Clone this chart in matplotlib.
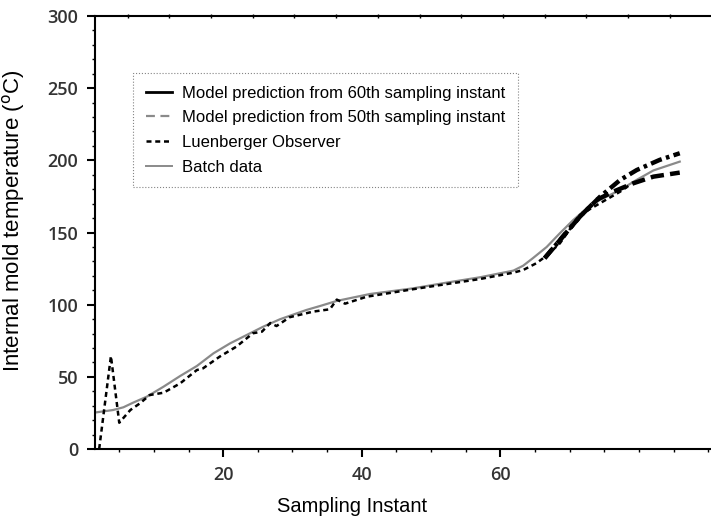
import matplotlib
matplotlib.use('Agg')
import matplotlib.pyplot as plt
from matplotlib.lines import Line2D
import numpy as np

# Batch data (gray solid)
batch_x = [1.4, 4.1, 5.6, 7.0, 9.0, 11.4, 13.8, 16.2, 18.6, 21.0, 23.4, 25.8, 28.2,
           32.0, 34.0, 36.4, 39.3, 41.2, 47.4, 52.3, 57.1, 61.9, 63.3, 64.7, 66.7,
           68.6, 70.5, 72.5, 74.4, 77.3, 79.7, 82.1, 85.9]
batch_y = [25.2, 27.0, 28.9, 32.1, 36.3, 43.2, 50.6, 57.5, 66.3, 73.2, 79.0, 84.8, 89.9,
           96.3, 99.1, 102.6, 105.5, 107.4, 111.3, 115.3, 119.0, 123.6, 127.0, 132.2, 140.0,
           149.5, 158.5, 166.8, 172.6, 179.5, 186.5, 193.0, 199.1]

# Luenberger observer estimate
luen_x = [2.1, 3.8, 5.0, 6.6, 8.0, 9.4, 11.4, 13.8, 16.2, 17.1, 19.5, 21.9, 24.3, 25.6,
          26.8, 27.7, 29.6, 33.0, 35.4, 36.4, 37.6, 40.7, 47.4, 52.3, 57.1, 61.9, 63.3,
          65.2, 66.7, 68.6, 71.5, 74.4, 77.3, 78.7]
luen_y = [0.0, 64.4, 18.2, 27.0, 31.7, 37.4, 39.0, 45.5, 54.7, 55.9, 64.0, 70.9, 80.2, 81.3,
          87.3, 85.2, 91.3, 95.2, 96.8, 103.5, 100.7, 105.5, 110.7, 114.3, 117.8, 122.2, 124.0,
          128.7, 134.0, 142.5, 162.2, 170.3, 178.3, 183.0]

# Model predictions
pred60_x = [66.4, 69.0, 71.5, 74.4, 77.3, 79.7, 83.0, 85.9]
pred60_y = [132.2, 147.0, 161.0, 174.8, 186.4, 193.3, 200.3, 204.9]
pred50_x = [66.4, 69.0, 71.5, 73.9, 76.3, 79.2, 82.1, 85.9]
pred50_y = [132.2, 147.0, 161.0, 172.6, 178.3, 184.1, 188.7, 191.5]

labels = ['Model prediction from 60th sampling instant',
          'Model prediction from 50th sampling instant',
          'Luenberger Observer',
          'Batch data']

gray = '#8a8a8a'
label_font = ['Liberation Sans', 'DejaVu Sans']

fig = plt.figure(figsize=(7.11, 5.25), dpi=100)
ax = fig.add_axes([95/711, 76/525, 627/711, 433/525])

ax.plot(batch_x, batch_y, color=gray, lw=1.6)
ax.plot(luen_x, luen_y, color='black', lw=1.8, dashes=(2.0, 1.5))
ax.plot(pred60_x, pred60_y, color='black', lw=3.2, dashes=(2.6, 1.0, 0.8, 1.0))
ax.plot(pred50_x, pred50_y, color='black', lw=3.2, dashes=(3.0, 1.4))

ax.set_xlim(1.5, 92)
ax.set_ylim(0, 300)
ax.set_xticks([20, 40, 60])
ax.set_xticks(np.arange(5, 92, 5), minor=True)
ax.set_yticks(np.arange(0, 301, 50))
ax.set_yticks(np.arange(0, 301, 10), minor=True)

for s in ['left', 'bottom', 'top']:
    ax.spines[s].set_linewidth(1.5)
ax.spines['right'].set_visible(False)

ax.tick_params(which='major', length=6, width=1.5, pad=6, labelsize=13,
               labelcolor='#333333')
ax.tick_params(which='minor', length=2, width=1.0)
for lab in ax.get_xticklabels() + ax.get_yticklabels():
    lab.set_family('Open Sans')
    lab.set_fontweight('semibold')

# small ticks on the top spine
top = ax.twiny()
top.set_xlim(ax.get_xlim())
top.set_xticks(np.arange(6.2, 90, 6.02))
top.set_xticklabels([])
top.tick_params(length=3, width=1.0, direction='inout')
for s in top.spines.values():
    s.set_visible(False)

ax.set_xlabel('Sampling Instant', fontsize=14.5, family=label_font)
ax.set_ylabel(r'Internal mold temperature ($^{\rm o}$C)', fontsize=16,
              family=label_font)
ax.xaxis.set_label_coords((352 - 95) / 627, -48 / 433)
ax.yaxis.set_label_coords(-68 / 627, (449 - 221) / 433)

handles = [Line2D([], [], color='black', lw=2.0),
           Line2D([], [], color=gray, lw=1.6, dashes=(4, 2.5)),
           Line2D([], [], color='black', lw=1.8, dashes=(2.0, 1.5)),
           Line2D([], [], color=gray, lw=1.4)]
leg = ax.legend(handles, labels, loc='upper left', bbox_to_anchor=(0.061, 0.868),
                fancybox=False, prop={'family': 'Liberation Sans', 'size': 12},
                handlelength=1.55, handletextpad=0.65, labelspacing=0.58,
                borderpad=0.75, borderaxespad=0)
leg.get_frame().set_edgecolor('#666666')
leg.get_frame().set_linestyle(':')
leg.get_frame().set_linewidth(0.8)

fig.savefig('out.png', dpi=100)
